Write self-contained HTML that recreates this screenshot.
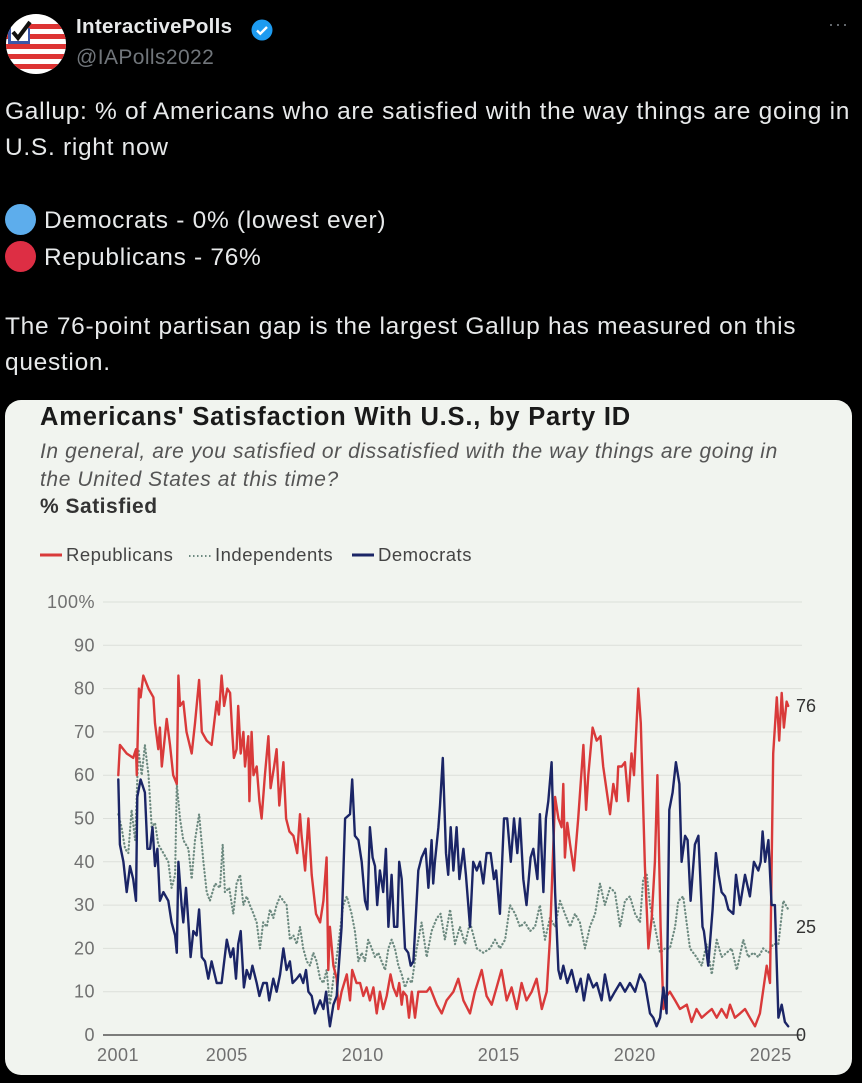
<!DOCTYPE html>
<html><head><meta charset="utf-8">
<style>
html,body{margin:0;padding:0;background:#000;width:862px;height:1083px;overflow:hidden;font-family:"Liberation Sans",sans-serif;}
.abs{position:absolute;}
.tw{color:#e7e9ea;font-size:24.5px;letter-spacing:0.7px;left:5px;white-space:nowrap;}
</style></head>
<body>
<div class="abs" style="left:6px;top:14px;width:60px;height:60px;border-radius:50%;overflow:hidden;background:#fff;">
<svg width="60" height="60" viewBox="0 0 60 60">
<rect x="0" y="20" width="60" height="5" fill="#d33"/><rect x="0" y="30" width="60" height="5" fill="#d33"/><rect x="0" y="40" width="60" height="5" fill="#d33"/><rect x="0" y="50" width="60" height="5" fill="#d33"/><rect x="22" y="10" width="38" height="5" fill="#d33"/>
<rect x="2" y="14" width="22" height="16" fill="#3a56a8"/><rect x="5" y="12" width="17" height="15" fill="#fff"/>
<path d="M7 18 L12 24 L24 8" stroke="#111" stroke-width="4" fill="none"/>
</svg></div>
<div class="abs" style="left:76px;top:15px;color:#e7e9ea;font-weight:bold;font-size:20.5px;letter-spacing:0.3px;">InteractivePolls</div>
<svg class="abs" style="left:250px;top:18px" width="24" height="24" viewBox="0 0 24 24"><circle cx="12" cy="12" r="10.5" fill="#1d9bf0"/><path d="M7 12.5l3.3 3.2L17 9" stroke="#fff" stroke-width="2.4" fill="none"/></svg>
<div class="abs" style="left:76px;top:46px;color:#71767b;font-size:21px;letter-spacing:0.4px;">@IAPolls2022</div>
<div class="abs" style="left:828px;top:14px;color:#71767b;font-size:18px;letter-spacing:1px;">···</div>

<div class="abs tw" style="top:98px">Gallup: % of Americans who are satisfied with the way things are going in</div>
<div class="abs tw" style="top:134px">U.S. right now</div>
<div class="abs tw" style="top:204px"><span style="display:inline-block;width:31px;height:31px;border-radius:50%;background:#5dadec;vertical-align:-7px;margin-right:8px"></span>Democrats - 0% (lowest ever)</div>
<div class="abs tw" style="top:241px"><span style="display:inline-block;width:31px;height:31px;border-radius:50%;background:#dd2e44;vertical-align:-7px;margin-right:8px"></span>Republicans - 76%</div>
<div class="abs tw" style="top:313px">The 76-point partisan gap is the largest Gallup has measured on this</div>
<div class="abs tw" style="top:349px">question.</div>

<div class="abs" style="left:5px;top:400px;width:847px;height:675px;border-radius:16px;background:#f1f4ef;overflow:hidden;">
<svg id="chart" width="847" height="675" viewBox="5 400 847 675" style="display:block" font-family="Liberation Sans, sans-serif"></svg>
</div>

<script>
const repX=[0.01,0.07,0.32,0.56,0.66,0.69,0.77,0.83,0.93,1.12,1.30,1.36,1.48,1.54,1.61,1.79,1.91,2.03,2.16,2.22,2.28,2.40,2.52,2.71,2.83,2.98,3.08,3.26,3.44,3.63,3.71,3.81,3.90,4.02,4.12,4.20,4.26,4.36,4.42,4.51,4.61,4.67,4.79,4.83,4.91,4.98,5.10,5.20,5.28,5.40,5.53,5.61,5.74,5.83,5.93,6.08,6.18,6.30,6.45,6.59,6.69,6.75,6.88,7.00,7.12,7.28,7.43,7.55,7.67,7.73,7.79,7.92,8.04,8.10,8.22,8.41,8.53,8.61,8.77,8.90,9.02,9.14,9.26,9.39,9.51,9.63,9.75,9.88,10.02,10.12,10.25,10.34,10.43,10.49,10.61,10.70,10.80,10.92,11.04,11.23,11.35,11.47,11.72,11.90,12.08,12.33,12.51,12.70,12.94,13.12,13.37,13.55,13.74,13.92,14.10,14.29,14.47,14.66,14.84,15.02,15.21,15.39,15.58,15.76,15.88,16.07,16.19,16.31,16.37,16.43,16.52,16.62,16.76,16.92,17.11,17.21,17.29,17.45,17.60,17.74,17.84,18.09,18.21,18.33,18.39,18.52,18.64,18.76,18.88,18.97,19.13,19.22,19.37,19.50,19.62,19.74,19.83,19.95,20.05,20.17,20.29,20.48,20.66,20.91,21.09,21.27,21.46,21.64,21.83,22.01,22.19,22.38,22.50,22.68,22.87,23.05,23.23,23.42,23.60,23.85,23.97,24.09,24.22,24.31,24.40,24.48,24.58,24.64];
const repV=[60,67,65,64,66,60,80,78,83,80,78,72,66,71,62,73,67,60,58,83,76,77,70,65,72,82,70,68,67,77,74,83,76,80,79,70,64,66,76,65,70,62,69,54,70,60,62,54,50,60,69,57,62,66,53,63,50,47,46,42,51,46,38,50,37,28,26,31,41,15,25,16,13,6,10,14,8,15,12,12,9,11,8,11,5,10,6,9,14,11,9,12,7,10,9,4,10,4,10,10,10,11,7,5,8,10,13,8,5,10,15,9,7,11,15,8,11,6,12,8,10,13,6,10,22,55,50,48,58,41,49,44,38,50,67,52,60,71,68,69,62,51,58,54,62,62,63,54,65,60,80,72,39,20,27,40,60,25,6,9,10,8,6,7,3,6,4,5,6,4,6,4,7,4,5,6,4,2,5,16,12,65,78,68,79,71,77,76];
const demX=[0.01,0.07,0.20,0.32,0.44,0.56,0.66,0.71,0.83,0.99,1.08,1.18,1.27,1.36,1.45,1.54,1.67,1.85,1.97,2.10,2.16,2.22,2.34,2.40,2.50,2.59,2.67,2.77,2.89,2.98,3.08,3.20,3.32,3.44,3.63,3.81,4.00,4.14,4.24,4.34,4.42,4.51,4.63,4.73,4.85,4.94,5.10,5.20,5.34,5.47,5.56,5.71,5.83,5.96,6.08,6.20,6.32,6.42,6.57,6.69,6.81,6.91,7.00,7.12,7.24,7.43,7.55,7.65,7.73,7.79,7.92,8.04,8.22,8.35,8.53,8.61,8.71,8.84,8.96,9.08,9.17,9.26,9.36,9.45,9.53,9.63,9.75,9.85,9.94,10.06,10.15,10.27,10.34,10.43,10.55,10.67,10.76,10.86,11.04,11.16,11.31,11.41,11.53,11.59,11.65,11.78,11.84,11.94,12.06,12.14,12.23,12.33,12.45,12.55,12.70,12.79,12.94,13.06,13.19,13.31,13.43,13.55,13.70,13.82,13.90,14.04,14.19,14.31,14.44,14.56,14.68,14.78,14.90,15.02,15.17,15.27,15.42,15.51,15.64,15.73,15.82,15.94,16.07,16.19,16.27,16.37,16.52,16.68,16.86,17.01,17.13,17.29,17.47,17.60,17.78,17.90,18.09,18.27,18.46,18.64,18.82,19.01,19.19,19.37,19.56,19.68,19.80,19.93,20.05,20.17,20.27,20.39,20.51,20.64,20.72,20.85,20.94,21.05,21.21,21.34,21.49,21.54,21.70,21.86,21.98,22.08,22.19,22.32,22.44,22.62,22.72,22.87,23.05,23.23,23.38,23.54,23.63,23.70,23.79,23.91,24.03,24.15,24.28,24.40,24.52,24.64];
const demV=[59,44,40,33,39,36,31,55,59,56,43,43,48,39,43,31,33,31,26,23,19,40,30,26,34,26,18,24,23,29,18,17,13,17,12,12,22,18,20,13,21,24,11,15,13,16,12,9,12,12,8,13,10,14,20,15,17,12,13,14,12,15,10,9,5,8,6,10,5,2,7,9,25,50,51,59,46,45,40,31,29,48,41,39,30,38,33,43,25,37,25,25,40,36,20,19,16,17,38,41,43,34,45,35,40,48,53,64,42,37,48,38,48,36,43,37,25,40,38,40,35,42,42,36,38,28,50,50,40,50,42,50,36,30,41,43,36,51,33,50,54,63,33,15,13,16,12,15,10,13,8,14,11,12,8,14,8,10,12,10,12,10,14,12,5,4,2,4,11,5,52,56,63,58,40,46,45,31,44,46,25,24,16,29,42,37,33,32,29,28,37,30,37,32,40,38,40,47,40,45,30,30,4,7,3,2,0];
const indX=[0.01,0.13,0.26,0.38,0.50,0.63,0.75,0.87,0.99,1.12,1.24,1.36,1.48,1.67,1.85,1.97,2.10,2.16,2.28,2.40,2.59,2.71,2.83,2.98,3.14,3.26,3.38,3.57,3.75,3.85,3.93,4.09,4.24,4.36,4.49,4.61,4.73,4.85,4.98,5.10,5.22,5.34,5.47,5.59,5.71,5.83,5.96,6.08,6.20,6.32,6.45,6.57,6.69,6.81,6.94,7.06,7.18,7.30,7.43,7.55,7.67,7.79,7.92,8.04,8.16,8.28,8.41,8.59,8.71,8.84,8.96,9.08,9.20,9.33,9.45,9.57,9.69,9.82,9.94,10.06,10.18,10.31,10.43,10.55,10.67,10.80,10.98,11.16,11.35,11.53,11.72,11.86,12.02,12.21,12.39,12.57,12.76,12.94,13.19,13.43,13.68,13.86,14.04,14.23,14.41,14.60,14.78,14.96,15.15,15.33,15.51,15.70,15.88,16.07,16.25,16.43,16.62,16.80,16.98,17.17,17.35,17.54,17.72,17.90,18.09,18.27,18.46,18.64,18.82,19.01,19.19,19.31,19.44,19.56,19.74,19.93,20.11,20.29,20.48,20.60,20.78,21.03,21.27,21.46,21.64,21.83,22.01,22.19,22.38,22.56,22.75,22.99,23.17,23.36,23.54,23.72,23.91,24.09,24.28,24.46,24.64];
const indV=[51,48,43,42,52,45,66,60,67,60,48,49,44,42,40,34,37,58,50,45,43,36,45,51,40,33,31,35,34,44,33,34,28,35,37,30,32,30,28,26,20,26,25,29,27,30,32,31,30,22,23,21,25,20,17,16,19,17,13,12,15,7,13,18,24,30,32,28,24,17,19,17,22,20,18,19,17,15,20,22,20,16,14,11,13,12,20,26,18,24,27,28,22,29,21,25,21,26,20,19,20,22,20,22,30,28,25,26,24,25,30,22,27,25,31,28,25,28,26,20,25,28,35,30,34,33,25,31,32,28,26,36,37,30,25,19,20,20,25,31,32,20,18,16,21,14,22,18,19,20,15,22,18,19,18,20,19,21,21,31,29,28,25];
const yTicks=[0,10,20,30,40,50,60,70,80,90,100];
const yTickLabels=["0","10","20","30","40","50","60","70","80","90","100%"];
const xTicks=[2001,2005,2010,2015,2020,2025];
const endLabels=["76","25","0"];
const endValues=[76,25,0];

const NS="http://www.w3.org/2000/svg";
const svg=document.getElementById('chart');
const X0=118,PXY=27.2,Y0=1035,PXV=4.33;
const xs=o=>X0+o*PXY, xYear=y=>xs(y-2001), ys=v=>Y0-v*PXV;
function el(t,a,txt){const e=document.createElementNS(NS,t);for(const k in a)e.setAttribute(k,a[k]);if(txt!=null)e.textContent=txt;svg.appendChild(e);return e;}

let t;
t=el('text',{x:40,y:425,'font-size':25.5,'letter-spacing':0.8,'font-weight':'bold',fill:'#1a1a1a'},"Americans' Satisfaction With U.S., by Party ID");


t=el('text',{x:40,y:458,'font-size':21,'letter-spacing':0.6,'font-style':'italic',fill:'#555'},"In general, are you satisfied or dissatisfied with the way things are going in");


t=el('text',{x:40,y:486,'font-size':21,'letter-spacing':0.6,'font-style':'italic',fill:'#555'},"the United States at this time?");


t=el('text',{x:40,y:513,'font-size':21,'letter-spacing':0.5,'font-weight':'bold',fill:'#333'},"% Satisfied");



// legend
t=el('line',{x1:40,x2:62,y1:555,y2:555,stroke:'#d93a3a','stroke-width':3});


t=el('text',{x:66,y:561,'font-size':18.5,'letter-spacing':0.5,fill:'#444'},"Republicans");


t=el('line',{x1:189,x2:211,y1:556,y2:556,stroke:'#6d8a80','stroke-width':2,'stroke-dasharray':'1.5 2.5'});


t=el('text',{x:215,y:561,'font-size':18.5,'letter-spacing':0.5,fill:'#444'},"Independents");


t=el('line',{x1:352,x2:374,y1:555,y2:555,stroke:'#1b2566','stroke-width':3});


t=el('text',{x:378,y:561,'font-size':18.5,'letter-spacing':0.5,fill:'#444'},"Democrats");



yTicks.forEach((v,i)=>{
  if(v>0){const g=el('line',{x1:103,x2:802,y1:ys(v),y2:ys(v),stroke:'#dcdfda','stroke-width':1});
  
  }
  const l=el('text',{x:95,y:ys(v)+6,'text-anchor':'end','font-size':18,'letter-spacing':0.5,fill:'#707070'},yTickLabels[i]);
  
  
});
xTicks.forEach(y=>{
  const l=el('text',{x:xYear(y),y:1061,'text-anchor':'middle','font-size':18,'letter-spacing':0.5,fill:'#707070'},String(y));
  
  
});
function series(xa,va,color,w,dash,name){
  const d=xa.map((o,i)=>(i?'L':'M')+xs(o).toFixed(1)+' '+ys(va[i]).toFixed(1)).join(' ');
  const a={d:d,fill:'none',stroke:color,'stroke-width':w,'stroke-linejoin':'round','stroke-linecap':'round'};
  if(dash)a['stroke-dasharray']=dash;
  const p=el('path',a);
  
  
}
series(indX,indV,'#6d8a80',2.2,'0.5 3.2','independents-line');
series(repX,repV,'#d93a3a',2.4,null,'republicans-line');
series(demX,demV,'#1b2566',2.4,null,'democrats-line');
const ax=el('line',{x1:103,x2:802,y1:Y0,y2:Y0,stroke:'#555','stroke-width':1.5});


endLabels.forEach((s,i)=>{
  const l=el('text',{x:796,y:ys(endValues[i])+6,'font-size':18,fill:'#333'},s);
  
  
});
</script>
</body></html>
